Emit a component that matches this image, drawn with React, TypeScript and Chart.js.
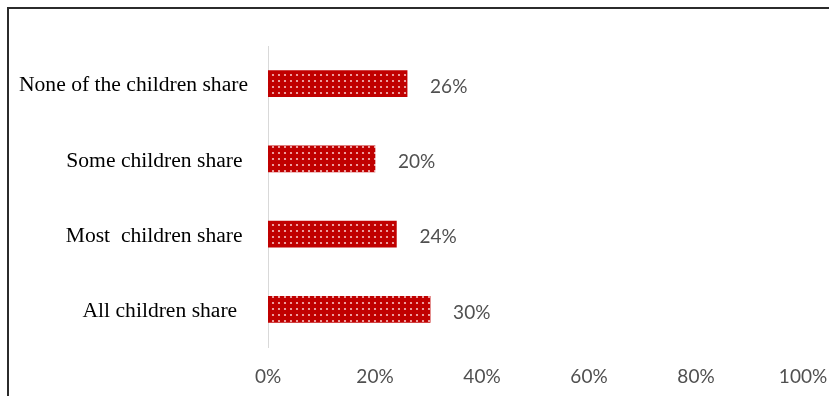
import React, { useEffect, useRef } from "react";
import { Chart, registerables } from "chart.js";

Chart.register(...registerables);

const categories = [
  "None of the children share",
  "Some children share ",
  "Most  children share ",
  "All children share  ",
];
const values = [0.26, 0.2, 0.24, 0.303];
const valueLabels = ["26%", "20%", "24%", "30%"];
const xTicks = [0, 0.2, 0.4, 0.6, 0.8, 1];

function makePattern(): CanvasPattern | string {
  const c = document.createElement("canvas");
  c.width = 6;
  c.height = 6;
  const ctx = c.getContext("2d");
  if (!ctx) return "#C00000";
  ctx.fillStyle = "#C00000";
  ctx.fillRect(0, 0, 6, 6);
  ctx.fillStyle = "rgba(255,230,230,0.85)";
  ctx.beginPath();
  ctx.arc(3, 3, 1.1, 0, Math.PI * 2);
  ctx.fill();
  const p = ctx.createPattern(c, "repeat");
  return p || "#C00000";
}

const valueLabelPlugin = {
  id: "valueLabels",
  afterDatasetsDraw(chart: any) {
    const ctx = chart.ctx;
    const meta = chart.getDatasetMeta(0);
    ctx.save();
    ctx.font = "19px Lato";
    ctx.fillStyle = "#505050";
    ctx.textAlign = "left";
    ctx.textBaseline = "middle";
    meta.data.forEach((bar: any, i: number) => {
      ctx.fillText(valueLabels[i], bar.x + 23, bar.y + 3);
    });
    ctx.restore();
  },
};

export default function App() {
  const ref = useRef<HTMLCanvasElement>(null);
  useEffect(() => {
    if (!ref.current) return;
    const chart = new Chart(ref.current, {
      type: "bar",
      data: {
        labels: categories,
        datasets: [
          {
            data: values,
            backgroundColor: makePattern() as any,
            borderWidth: 0,
            barThickness: 26,
          },
        ],
      },
      options: {
        indexAxis: "y",
        animation: false,
        responsive: false,
        maintainAspectRatio: false,
        layout: { padding: { top: 46, right: 0, left: 0, bottom: 0 } },
        plugins: { legend: { display: false }, tooltip: { enabled: false } },
        scales: {
          x: {
            min: 0,
            max: 1,
            afterBuildTicks(scale: any) {
              scale.ticks = xTicks.map((v) => ({ value: v }));
            },
            afterFit(scale: any) {
              scale.height = 49;
              scale.paddingRight = 26;
              scale.paddingLeft = 0;
            },
            grid: { display: false, drawTicks: false },
            border: { display: false },
            ticks: {
              padding: 18,
              color: "#505050",
              font: { family: "Lato", size: 19 },
              callback: (v: any) => Math.round(Number(v) * 100) + "%",
            },
          },
          y: {
            afterFit(scale: any) {
              scale.width = 268;
            },
            grid: { display: false, drawTicks: false },
            border: { display: true, color: "#d9d9d9", width: 1 },
            ticks: {
              padding: 20,
              labelOffset: 2,
              color: "#000000",
              font: { family: "Liberation Serif", size: 21.6 },
            },
          },
        },
      },
      plugins: [valueLabelPlugin],
    });
    return () => chart.destroy();
  }, []);

  return (
    <div style={{ position: "fixed", left: 0, top: 0, width: 829, height: 396, overflow: "hidden", background: "#fff" }}>
      <div
        style={{
          position: "absolute",
          left: 7,
          top: 7,
          width: 900,
          height: 450,
          borderTop: "2px solid #2b2b2b",
          borderLeft: "2px solid #2b2b2b",
        }}
      />
      <canvas ref={ref} width={829} height={396} style={{ position: "absolute", left: 0, top: 0 }} />
    </div>
  );
}
